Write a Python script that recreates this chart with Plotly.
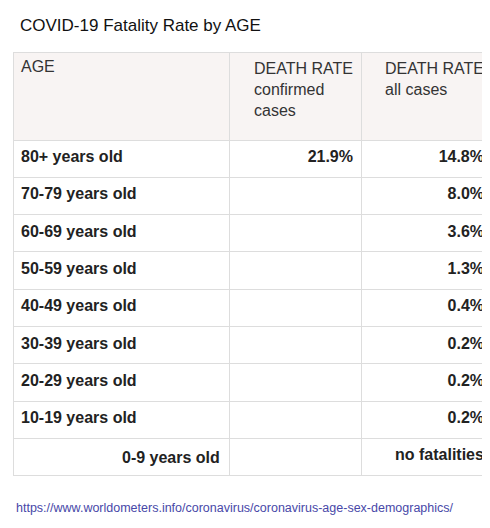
import plotly.graph_objects as go

ages = ["80+ years old", "70-79 years old", "60-69 years old", "50-59 years old",
        "40-49 years old", "30-39 years old", "20-29 years old", "10-19 years old",
        "0-9 years old"]
confirmed = ["21.9%", "", "", "", "", "", "", "", ""]
all_cases = ["14.8%", "8.0%", "3.6%", "1.3%", "0.4%", "0.2%", "0.2%", "0.2%",
             "no fatalities"]
headers = ["AGE", "DEATH RATE<br>confirmed<br>cases", "DEATH RATE<br>all cases"]

W, H = 490, 528
ROW_H, HEAD_H, TOP = 37.3, 88, 44
bold = lambda col: ["<b>%s</b>" % v if v else "" for v in col]

# last age label is right aligned in the reference; draw it separately
age_cells = bold(ages[:-1]) + [""]

fig = go.Figure(go.Table(
    columnwidth=[216, 132, 131],
    domain=dict(x=[5 / W, 484 / W], y=[40 / H, 1 - TOP / H]),
    header=dict(
        values=headers,
        align=["left", "right", "right"],
        fill_color="#f8f4f3",
        line_color="#dddddd",
        font=dict(family="Arial", size=16, color="#333333"),
        height=HEAD_H,
    ),
    cells=dict(
        values=[age_cells, bold(confirmed), bold(all_cases)],
        align=["left", "right", "right"],
        fill_color="white",
        line_color="#dddddd",
        font=dict(family="Arial", size=16, color="#222222"),
        height=ROW_H,
    ),
))

last_y = TOP + HEAD_H + (len(ages) - 1) * ROW_H + ROW_H / 2
fig.add_annotation(text="<b>%s</b>" % ages[-1], x=214 / W, y=1 - last_y / H,
                   xref="paper", yref="paper", xanchor="right", yanchor="middle",
                   showarrow=False, font=dict(family="Arial", size=16, color="#222222"))
fig.add_annotation(text="COVID-19 Fatality Rate by AGE", x=10 / W, y=1 - 18 / H,
                   xref="paper", yref="paper", xanchor="left", yanchor="middle",
                   showarrow=False, font=dict(family="Arial", size=17, color="#111111"))
fig.add_annotation(text="https://www.worldometers.info/coronavirus/coronavirus-age-sex-demographics/",
                   x=6 / W, y=1 - 500 / H, xref="paper", yref="paper",
                   xanchor="left", yanchor="middle", showarrow=False,
                   font=dict(family="Arial", size=12.5, color="#4848a8"))

fig.update_layout(width=W, height=H, margin=dict(l=0, r=0, t=0, b=0),
                  paper_bgcolor="white")
fig.write_html("out.html")
